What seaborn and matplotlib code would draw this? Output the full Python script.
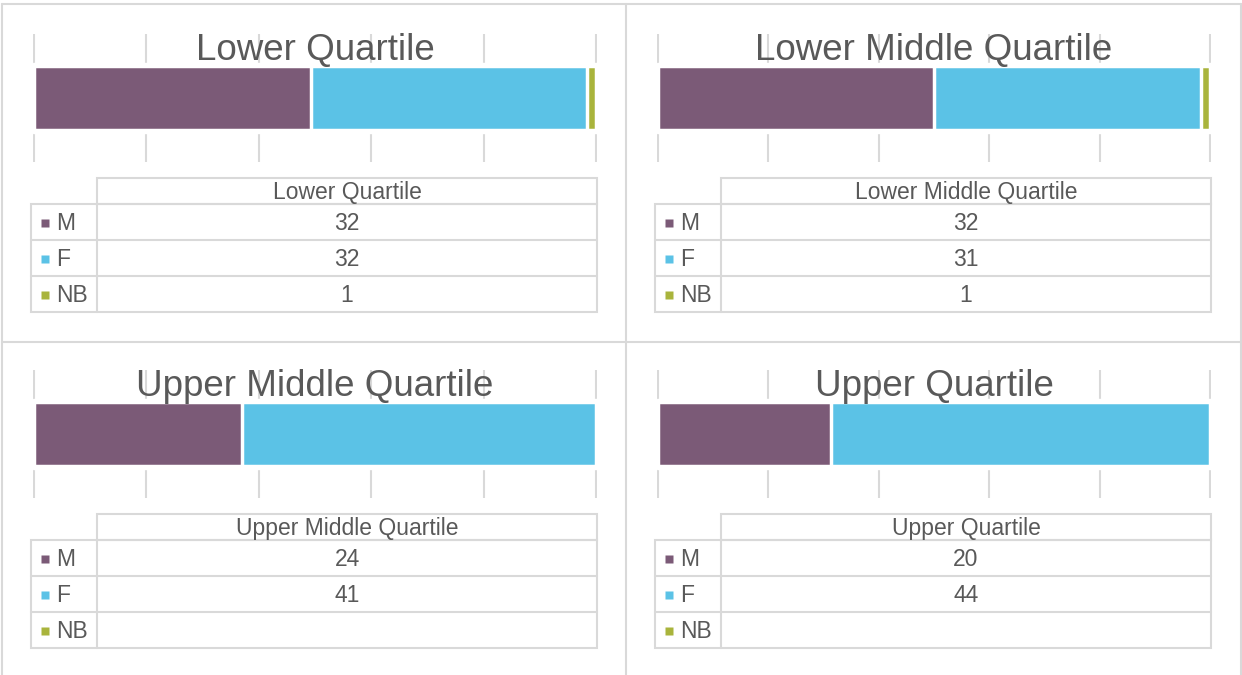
import numpy as np
import seaborn as sns
import matplotlib.pyplot as plt
from matplotlib.patches import Rectangle

# data
groups = ['Lower Quartile', 'Lower Middle Quartile', 'Upper Middle Quartile', 'Upper Quartile']
series = ['M', 'F', 'NB']
m_vals = [32, 32, 24, 20]
f_vals = [32, 31, 41, 44]
nb_vals = [1, 1, np.nan, np.nan]
colors = ['#7b5a77', '#5bc2e6', '#a9b43c']

sns.set_theme(style='white')
plt.rcParams['font.family'] = ['Liberation Sans', 'DejaVu Sans']
txt = '#595959'
grid_c = '#d9d9d9'

W, H = 1242, 675
fig = plt.figure(figsize=(W / 100, H / 100), dpi=100)


def px_axes(x0, y0, x1, y1):
    return fig.add_axes([x0 / W, 1 - y1 / H, (x1 - x0) / W, (y1 - y0) / H])


# pixel layout of the four panels
panel_x = [(33, 597), (657, 1211), (33, 597), (657, 1211)]
panel_dy = [0, 0, 336, 336]

# overlay in pixel coords for frames and data tables
ov = fig.add_axes([0, 0, 1, 1])
ov.set_xlim(0, W)
ov.set_ylim(H, 0)
ov.axis('off')
ov.patch.set_alpha(0)
for xs, ys in [([2, 1241], [4, 4]), ([2, 2], [4, 675]), ([1241, 1241], [4, 675]),
               ([626, 626], [4, 675]), ([2, 1241], [342, 342])]:
    ov.plot(xs, ys, color=grid_c, lw=1.5)

for i, g in enumerate(groups):
    vals = [m_vals[i], f_vals[i], nb_vals[i]]
    v = np.nan_to_num(vals)
    pct = np.cumsum(v) / v.sum()
    x0, x1 = panel_x[i]
    dy = panel_dy[i]

    # stacked 100% bar
    ax = px_axes(x0, 34 + dy, x1, 162 + dy)
    ax.axhspan(-0.27, 0.27, color='white', zorder=1)
    for k in [2, 1, 0]:
        sns.barplot(x=[pct[k]], y=[g], orient='h', color=colors[k], saturation=1,
                    width=0.495, edgecolor='white', linewidth=2.5, ax=ax, zorder=2)
    ax.set_xlim(-0.002, 1.002)
    ax.set_ylim(0.5, -0.5)
    ax.set_xticks(np.linspace(0, 1, 6))
    ax.set_xticklabels([])
    ax.set_yticks([])
    ax.grid(axis='x', color=grid_c, lw=1.5)
    ax.set_axisbelow(True)
    ax.tick_params(length=0)
    ax.set_xlabel('')
    ax.set_ylabel('')
    for s in ax.spines.values():
        s.set_visible(False)
    ax.text(0.5, 0.797, g, transform=ax.transAxes, ha='center', va='baseline',
            fontsize=26.5, color=txt, zorder=3)

    # data table
    tl = x0 - 2
    sp = tl + 66
    tr = x1
    ht = 178 + dy
    hb = 204 + dy
    rh = 36
    ov.add_patch(Rectangle((sp, ht), tr - sp, hb - ht, fill=False, ec=grid_c, lw=1.5))
    ov.add_patch(Rectangle((tl, hb), tr - tl, 3 * rh, fill=False, ec=grid_c, lw=1.5))
    ov.plot([sp, sp], [hb, hb + 3 * rh], color=grid_c, lw=1.5)
    for r in [1, 2]:
        ov.plot([tl, tr], [hb + r * rh] * 2, color=grid_c, lw=1.5)
    cx = (sp + tr) / 2
    ov.text(cx, (ht + hb) / 2 + 1, g, ha='center', va='center', fontsize=16.5, color=txt)
    for r, name in enumerate(series):
        cy = hb + rh / 2 + r * rh
        ov.plot(tl + 13.5, cy + 1, marker='s', ms=5.2, color=colors[r], mec='none')
        ov.text(tl + 25, cy + 1, name, ha='left', va='center', fontsize=16.5, color=txt)
        if not np.isnan(vals[r]):
            ov.text(cx, cy + 1, f'{int(vals[r])}', ha='center', va='center',
                    fontsize=16.5, color=txt)

fig.savefig('out.png', dpi=100)
